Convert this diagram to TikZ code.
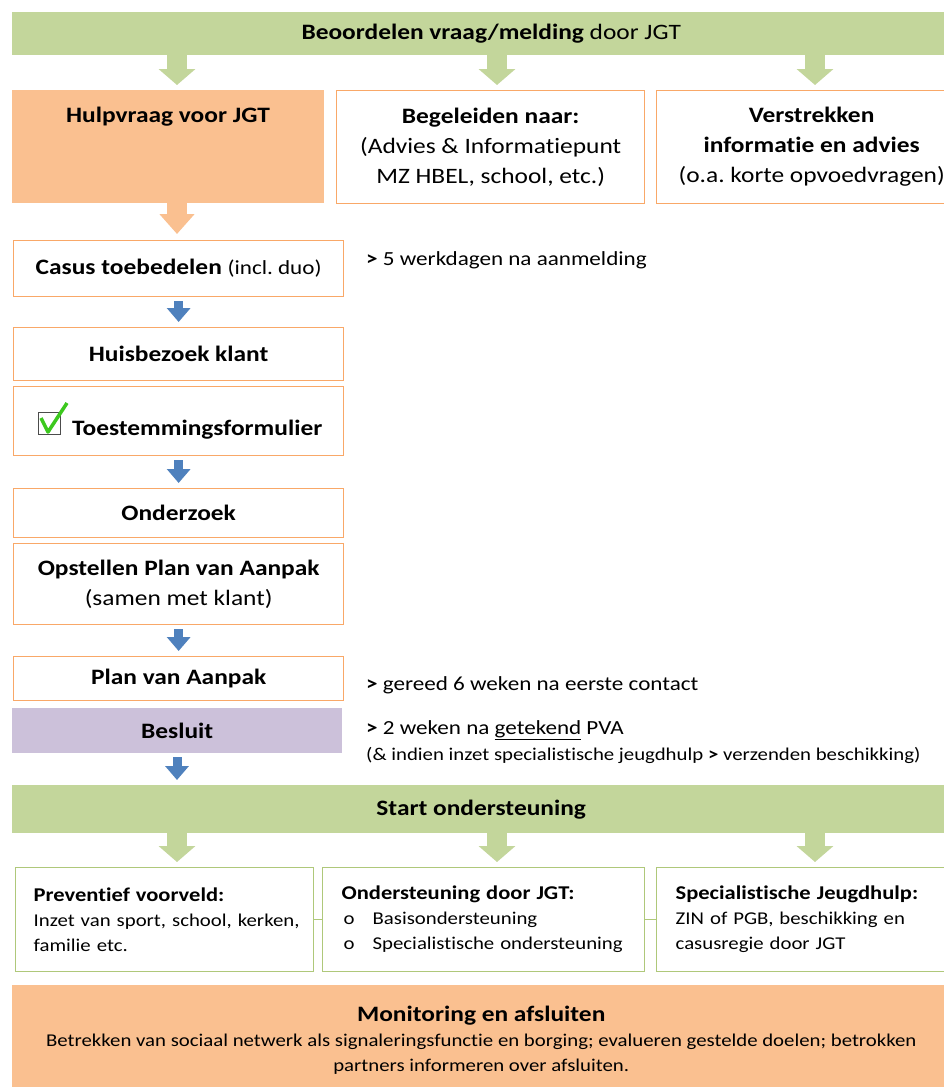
\documentclass[tikz,border=0pt]{standalone}
\usepackage{fontspec}
\setmainfont[FakeStretch=1.155, Ligatures=NoCommon]{Carlito}
\usetikzlibrary{arrows.meta,positioning}
\frenchspacing

\definecolor{bannergreen}{HTML}{C3D69B}
\definecolor{peach}{HTML}{FAC090}
\definecolor{boxorange}{HTML}{F9A868}
\definecolor{arrowblue}{HTML}{4F81BD}
\definecolor{besluitpurple}{HTML}{CCC1DA}
\definecolor{boxgreen}{HTML}{AFC87A}
\definecolor{checkgreen}{HTML}{3CC81E}

\newcommand{\stepfont}{\fontsize{22}{30}\selectfont}
\newcommand{\notefont}{\fontsize{20}{24}\selectfont}
\newcommand{\smallnotefont}{\fontsize{18}{20}\selectfont}
\newcommand{\boxfont}{\fontsize{18}{25}\selectfont}
\newcommand{\boxtitle}[1]{{\fontsize{19.5}{25}\selectfont\bfseries #1}}

\tikzset{
  banner/.style={fill=bannergreen, anchor=north west, inner sep=0, font=\stepfont},
  stepbox/.style={draw=boxorange, line width=1.3pt, fill=white, anchor=north west, minimum width=330, inner sep=0, align=center, font=\stepfont\bfseries},
  peachbox/.style={fill=peach, anchor=north west, inner sep=0},
  gbox/.style={draw=boxgreen, line width=1.3pt, fill=white, anchor=north west, minimum height=104, inner ysep=0, align=left, font=\boxfont},
  note/.style={anchor=west, inner sep=0, font=\notefont},
  garrow/.style={draw=bannergreen, line width=20pt, -{Triangle[width=36pt,length=16pt]}, shorten >=5pt},
  parrow/.style={draw=peach, line width=20pt, -{Triangle[width=34pt,length=20pt]}, shorten >=6pt},
  barrow/.style={draw=arrowblue, line width=9pt, -{Triangle[width=23pt,length=14pt]}, shorten <=4pt, shorten >=5pt},
  gline/.style={draw=boxgreen, line width=1.3pt}
}

\begin{document}
\begin{tikzpicture}[x=1pt,y=-1pt]

  \useasboundingbox (0,0) rectangle (944,1087);
  \fill[white] (0,0) rectangle (944,1087);

  % columns of the green arrows
  \coordinate (col1) at (177,0);
  \coordinate (col2) at (497,0);
  \coordinate (col3) at (815,0);

  % top row
  \node[banner, minimum width=958, minimum height=43] (beoordelen) at (12,12) {\textbf{Beoordelen vraag/melding} door JGT};

  \node[peachbox, minimum width=312, minimum height=113] (hulp) at (12,90) {};
  \node[font=\stepfont\bfseries] (hulptxt) at (168,117) {Hulpvraag voor JGT};
  \node[stepbox, minimum width=308, minimum height=113, font=\stepfont] (begeleiden) at (336,90)
    {\textbf{Begeleiden naar:}\\(Advies \& Informatiepunt\\MZ HBEL, school, etc.)};
  \node[stepbox, minimum width=310, minimum height=113, font=\stepfont] (verstrekken) at (656,90)
    {\textbf{Verstrekken}\\\textbf{informatie en advies}\\(o.a. korte opvoedvragen)};

  \draw[garrow] (beoordelen.south -| col1) -- (hulp.north -| col1);
  \draw[garrow] (beoordelen.south -| col2) -- (begeleiden.north -| col2);
  \draw[garrow] (beoordelen.south -| col3) -- (verstrekken.north -| col3);

  % main flow
  \node[stepbox, minimum height=56] (casus) at (13,240) {Casus toebedelen {\mdseries\fontsize{20}{24}\selectfont(incl. duo)}};
  \node[stepbox, minimum height=53] (huisbezoek) at (13,327) {Huisbezoek klant};
  \node[stepbox, minimum height=69] (toestemming) at (13,386) {};
  \node[draw=gray!60!black, line width=1pt, minimum size=22, inner sep=0, anchor=north west] (vinkje) at (38,412) {};
  \draw[checkgreen, line width=3.5pt, line join=round] ([xshift=3pt,yshift=-6pt]vinkje.north west) -- ([xshift=10pt,yshift=3pt]vinkje.south west) -- ([xshift=6pt,yshift=9pt]vinkje.north east);
  \node[note, font=\stepfont\bfseries] (toesttxt) at (72,430) {Toestemmingsformulier};
  \node[stepbox, minimum height=49] (onderzoek) at (13,488) {Onderzoek};
  \node[stepbox, minimum height=81] (opstellen) at (13,543) {Opstellen Plan van Aanpak\\{\mdseries(samen met klant)}};
  \node[stepbox, minimum height=44] (pva) at (13,656) {Plan van Aanpak};
  \node[peachbox, fill=besluitpurple, minimum width=330, minimum height=45, font=\stepfont\bfseries] (besluit) at (12,708) {Besluit};

  \draw[parrow] (hulp.south -| col1) -- (casus.north -| col1);
  \draw[barrow] (casus) -- (huisbezoek);
  \draw[barrow] (toestemming) -- (onderzoek);
  \draw[barrow] (opstellen) -- (pva);

  % notes
  \node[note] (termijn1) at (366,260) {\textbf{>} 5 werkdagen na aanmelding};
  \node[note] (termijn2) at (366,685) {\textbf{>} gereed 6 weken na eerste contact};
  \node[note] (termijn3) at (366,730) {\textbf{>} 2 weken na \underline{getekend} PVA};
  \node[note, font=\smallnotefont] (termijn4) at (366,755) {(\& indien inzet specialistische jeugdhulp \textbf{>} verzenden beschikking)};

  % start ondersteuning
  \node[banner, minimum width=938, minimum height=48, font=\stepfont\bfseries] (start) at (12,785) {Start ondersteuning};
  \draw[barrow] (besluit.south -| col1) -- (start.north -| col1);

  \node[gbox, minimum width=298, text width=262, inner xsep=18] (preventief) at (15,867)
    {\boxtitle{Preventief voorveld:}\\\mbox{Inzet van sport, school, kerken,}\\familie etc.};
  \node[gbox, minimum width=322, text width=284, inner xsep=19] (jgt) at (322,867)
    {\boxtitle{Ondersteuning door JGT:}\\\hspace*{2pt}\makebox[29pt][l]{o}Basisondersteuning\\\hspace*{2pt}\makebox[29pt][l]{o}Specialistische ondersteuning};
  \node[gbox, minimum width=310, text width=272, inner xsep=19] (specialistisch) at (656,867)
    {\boxtitle{Specialistische Jeugdhulp:}\\ZIN of PGB, beschikking en\\casusregie door JGT};

  \draw[garrow] (start.south -| col1) -- (preventief.north -| col1);
  \draw[garrow] (start.south -| col2) -- (jgt.north -| col2);
  \draw[garrow] (start.south -| col3) -- (specialistisch.north -| col3);
  \draw[gline] (preventief.east) -- (jgt.west);
  \draw[gline] (jgt.east) -- (specialistisch.west);

  % monitoring
  \node[peachbox, minimum width=938, minimum height=110, align=center, font=\boxfont] (monitoring) at (12,985)
    {{\fontsize{22}{26}\selectfont\bfseries Monitoring en afsluiten}\\Betrekken van sociaal netwerk als signaleringsfunctie en borging; evalueren gestelde doelen; betrokken\\partners informeren over afsluiten.};

\end{tikzpicture}
\end{document}
